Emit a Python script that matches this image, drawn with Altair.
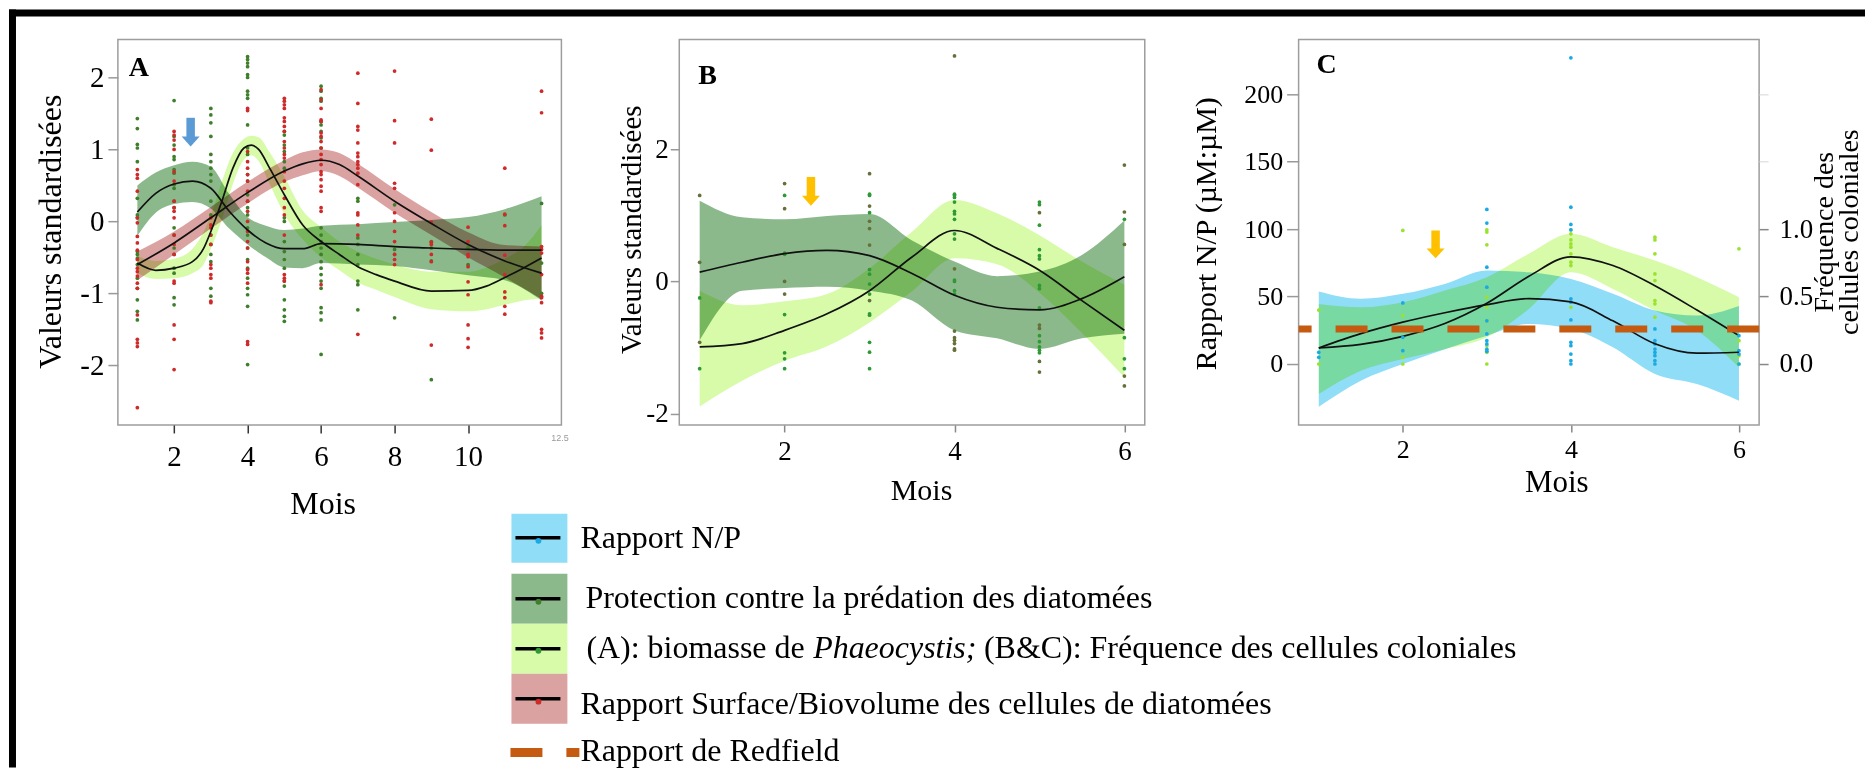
import altair as alt
import pandas as pd

SERIF = "Liberation Serif"

# ---------------- Panel A ----------------
A_PROT_MOIS = [1, 1.5, 2, 2.5, 3, 3.5, 4, 4.5, 5, 5.5, 6, 7, 8, 9, 10, 11, 12]
A_PROT_FIT = [0.13, 0.39, 0.52, 0.56, 0.46, 0.14, -0.12, -0.30, -0.38, -0.38, -0.31, -0.32, -0.35, -0.37, -0.39, -0.40, -0.40]
A_PROT_BAS = [-0.20, 0.12, 0.24, 0.27, 0.18, -0.10, -0.32, -0.50, -0.64, -0.65, -0.58, -0.60, -0.62, -0.68, -0.75, -0.82, -1.10]
A_PROT_HAUT = [0.50, 0.68, 0.78, 0.83, 0.76, 0.38, 0.06, -0.06, -0.12, -0.10, -0.06, -0.04, -0.01, 0.02, 0.06, 0.17, 0.35]

A_PHAE_MOIS = [1, 1.5, 2, 2.5, 2.8, 3, 3.3, 3.6, 3.9, 4.1, 4.3, 4.6, 5, 5.5, 6, 6.5, 7, 7.5, 8, 9, 10, 10.5, 11, 11.5, 12]
A_PHAE_FIT = [-0.58, -0.68, -0.65, -0.56, -0.38, -0.14, 0.28, 0.74, 1.02, 1.06, 1.00, 0.74, 0.37, -0.05, -0.28, -0.46, -0.63, -0.74, -0.83, -0.97, -0.96, -0.90, -0.78, -0.65, -0.51]
A_PHAE_BAS = [-0.72, -0.80, -0.79, -0.72, -0.60, -0.38, 0.02, 0.52, 0.86, 0.92, 0.84, 0.52, 0.10, -0.25, -0.50, -0.68, -0.85, -0.95, -1.05, -1.22, -1.25, -1.22, -1.16, -1.10, -1.07]
A_PHAE_HAUT = [-0.48, -0.55, -0.52, -0.38, -0.15, 0.08, 0.55, 0.95, 1.15, 1.19, 1.17, 0.96, 0.62, 0.15, -0.08, -0.28, -0.42, -0.52, -0.60, -0.70, -0.70, -0.64, -0.52, -0.36, -0.05]

A_SURF_MOIS = [1, 2, 3, 4, 5, 5.5, 6, 6.5, 7, 8, 9, 10, 11, 12]
A_SURF_FIT = [-0.60, -0.30, 0.05, 0.40, 0.70, 0.80, 0.85, 0.79, 0.63, 0.28, -0.03, -0.32, -0.55, -0.72]
A_SURF_BAS = [-0.82, -0.46, -0.10, 0.25, 0.55, 0.64, 0.70, 0.63, 0.47, 0.12, -0.19, -0.50, -0.78, -1.08]
A_SURF_HAUT = [-0.42, -0.14, 0.20, 0.55, 0.85, 0.96, 1.00, 0.95, 0.80, 0.45, 0.13, -0.15, -0.33, -0.35]

A_POINTS_ROUGES = {
    1: [0.72, 0.65, 0.60, 0.42, 0.05, -0.02, -0.21, -0.30, -0.40, -0.53, -0.65, -0.70, -0.76, -0.86, -0.93, -1.30, -1.64, -1.69, -1.74, -2.59],
    2: [1.25, 1.20, 1.13, 1.00, 0.69, 0.56, 0.28, 0.19, 0.14, 0.05, -0.19, -0.32, -0.46, -0.83, -0.86, -1.44, -1.64, -2.06],
    3: [0.05, -0.05, -0.09, -0.19, -0.32, -0.60, -0.65, -0.74, -0.79, -1.11, -1.13],
    4: [1.57, 1.54, 0.97, 0.83, 0.74, 0.65, 0.56, 0.42, 0.28, 0.14, 0.0, -0.14, -0.28, -0.37, -0.56, -0.67, -0.72, -0.86, -1.67, -1.71],
    5: [1.71, 1.67, 1.62, 1.57, 1.44, 1.39, 1.32, 1.25, 1.11, 1.02, 0.93, 0.88, 0.69, 0.56, 0.46, 0.32, 0.19, 0.09, -0.19, -0.74, -0.79, -0.83],
    6: [1.83, 1.69, 1.57, 1.41, 1.39, 1.23, 1.18, 1.11, 1.02, 0.93, 0.86, 0.79, 0.69, 0.65, 0.58, 0.49, 0.42, 0.19, 0.14, -0.88],
    7: [2.06, 1.64, 1.32, 1.27, 1.09, 0.95, 0.90, 0.83, 0.79, 0.74, 0.67, 0.51, 0.12, 0.09, -0.05, -0.19, -1.57],
    8: [2.09, 1.40, 1.09, 0.53, 0.46, 0.12, 0.0, -0.14, -0.28, -0.46, -0.53, -0.60],
    9: [1.42, 0.99, -0.01, -0.29, -0.32, -0.46, -0.56, -1.72],
    10: [-0.08, -0.28, -0.46, -0.49, -0.63, -0.84, -1.02, -1.44, -1.63, -1.75],
    11: [0.74, 0.10, -0.06, -0.47, -0.74, -0.98, -1.06, -1.18, -1.29],
    12: [1.81, 1.51, -0.35, -0.39, -0.44, -0.74, -1.04, -1.06, -1.13, -1.50, -1.55, -1.62],
}
A_POINTS_VERTS = {
    1: [1.43, 1.29, 1.07, 1.02, 0.83, 0.32, 0.09, 0.05, -0.42, -0.46, -0.51, -0.60, -0.79, -0.93, -1.09, -1.25, -1.37],
    2: [1.68, 1.18, 1.06, 0.90, 0.86, 0.72, 0.67, 0.51, 0.46, 0.28, 0.19, -0.09, -0.19, -0.37, -0.46, -0.65, -0.72, -1.06, -1.16],
    3: [1.57, 1.48, 1.37, 1.18, 0.93, 0.83, 0.74, 0.65, 0.56, 0.28, 0.09, -0.19, -0.32, -0.46, -0.56, -0.93, -1.04],
    4: [2.29, 2.25, 2.20, 2.15, 2.04, 2.00, 1.81, 1.76, 1.71, 1.34, 1.02, 0.93, 0.65, 0.56, 0.37, 0.28, 0.19, 0.09, -0.09, -0.19, -0.37, -0.53, -0.65, -0.79, -0.93, -1.02, -1.18, -1.99],
    5: [1.25, 1.20, 1.06, 0.97, 0.83, 0.74, 0.05, 0.0, -0.28, -0.42, -0.53, -0.65, -0.83, -0.90, -1.09, -1.23, -1.32, -1.39],
    6: [1.88, 1.81, 1.71, 1.67, 1.39, 1.34, 1.25, 1.16, 1.02, -0.09, -0.19, -0.28, -0.37, -0.46, -0.56, -0.65, -0.74, -0.83, -0.93, -1.20, -1.27, -1.37, -1.85],
    7: [0.32, 0.28, -0.23, -0.32, -0.46, -0.60, -0.83, -0.88, -1.23],
    8: [0.23, -0.39, -0.46, -1.34],
    9: [-0.28, -0.37, -0.55, -2.20],
    10: [-0.36, -0.60],
    11: [0.09],
    12: [0.25, -0.58, -1.00],
}
A_FLECHE = [2.45, 1.44, 1.11]  # mois, haut de la flèche, centre de la pointe

# ---------------- Panel B ----------------
B_MOIS = [1, 1.5, 2, 2.5, 3, 3.5, 4, 4.5, 5, 5.5, 6]
B_PROT_FIT = [0.14, 0.29, 0.42, 0.47, 0.39, 0.12, -0.21, -0.39, -0.43, -0.26, 0.07]
B_PROT_BAS = [-0.89, -0.14, -0.10, -0.08, -0.14, -0.29, -0.74, -0.86, -1.02, -0.86, -0.79]
B_PROT_HAUT = [1.22, 0.97, 0.94, 0.99, 1.02, 0.62, 0.30, 0.08, 0.15, 0.40, 0.92]
B_COLO_FIT = [-0.99, -0.94, -0.74, -0.49, -0.14, 0.37, 0.77, 0.50, 0.17, -0.29, -0.74]
B_COLO_BAS = [-1.89, -1.50, -1.20, -0.98, -0.62, -0.15, 0.35, 0.26, -0.17, -0.78, -1.45]
B_COLO_HAUT = [-0.14, -0.36, -0.30, -0.19, 0.20, 0.75, 1.23, 1.03, 0.70, 0.30, -0.05]

B_POINTS_OLIVE = {
    1: [1.30, 0.29, -0.92],
    2: [1.48, 1.10, 0.43, 0.0, -0.19],
    3: [1.63, 1.14, 0.91, 0.80, 0.55, -0.29],
    4: [3.41, 0.19, -0.75, -0.85, -0.89, -0.94, -1.02, -1.04],
    5: [1.04, -0.66, -0.71, -1.21, -1.37],
    6: [1.76, 1.05, 0.56, -1.43, -1.58],
}
B_POINTS_VERTS = {
    1: [-0.25, -1.32],
    2: [1.30, 0.41, -0.50, -1.08, -1.17, -1.32],
    3: [1.32, 1.30, 1.04, 0.18, 0.11, -0.04, -0.19, -0.49, -0.51, -0.92, -1.07, -1.32],
    4: [1.32, 1.30, 1.27, 1.20, 1.06, 1.02, 0.94, 0.72, 0.64, 0.02, 0.0, -0.14, -0.19],
    5: [1.20, 1.16, 0.85, 0.48, 0.39, 0.34, -0.06, -0.11, -0.40, -0.82, -0.91, -0.99, -1.04, -1.08],
    6: [0.94, -0.85, -1.17, -1.32],
}
B_FLECHE = [2.31, 1.58, 1.22]

# ---------------- Panel C ----------------
C_MOIS = [1, 1.5, 2, 2.5, 3, 3.5, 4, 4.5, 5, 5.5, 6]
C_NP_FIT = [11.9, 22.5, 31.0, 38.0, 44.0, 48.5, 46.0, 32.0, 15.0, 8.0, 8.7]
C_NP_BAS = [-31.7, -12.4, 0.0, 11.0, 21.0, 29.7, 26.0, 12.4, -7.4, -14.9, -27.2]
C_NP_HAUT = [53.7, 48.3, 52.0, 59.4, 69.3, 68.0, 63.0, 52.0, 39.6, 35.9, 43.0]
C_COLO_FIT = [0.119, 0.145, 0.205, 0.30, 0.45, 0.65, 0.795, 0.73, 0.58, 0.40, 0.21]
C_COLO_BAS = [-0.223, -0.05, 0.037, 0.11, 0.198, 0.408, 0.68, 0.557, 0.396, 0.248, -0.025]
C_COLO_HAUT = [0.445, 0.42, 0.458, 0.545, 0.644, 0.817, 0.965, 0.866, 0.767, 0.644, 0.495]

C_POINTS_NP = {
    1: [8.7, 5.0],
    2: [45.3, 26.0, 19.8, 9.9],
    3: [114.6, 104.5, 71.8, 57.0, 32.0, 22.3, 17.3, 14.9, 11.0, 9.4],
    4: [227.0, 116.3, 103.5, 99.5, 48.3, 45.8, 32.7, 25.2, 16.1, 13.6, 7.4, 2.5, 0.0],
    5: [26.0, 17.3, 14.9, 11.1, 8.7, 6.2, 2.5, 0.0],
    6: [21.0, 9.9, 7.4, 0.0],
}
C_POINTS_COLO = {
    1: [0.40, 0.0],
    2: [0.99, 0.359, 0.26, 0.05, 0.0],
    3: [0.995, 0.978, 0.884, 0.495, 0.42, 0.32, 0.136, 0.087, 0.0],
    4: [0.995, 0.965, 0.92, 0.89, 0.866, 0.817, 0.755, 0.73, 0.42],
    5: [0.94, 0.92, 0.817, 0.668, 0.619, 0.47, 0.446, 0.347],
    6: [0.854, 0.173, 0.062, 0.0],
}
C_REDFIELD = [26]
C_FLECHE = [2.39, 99.0, 82.0]
C_TITRE_DROITE = ["Fréquence des", "cellules coloniales"]

# ---------------- Légende ----------------
LEG_TEXTES = ["Rapport N/P", "Protection contre la prédation des diatomées", None,
              "Rapport Surface/Biovolume des cellules de diatomées", "Rapport de Redfield"]
LEG_PHAEO = ["(A): biomasse de ", "Phaeocystis;", "(B&C): Fréquence des cellules coloniales"]

# ---------------- Styles ----------------
F_VERT_FONCE = "#8CB98C"
F_VERT_CLAIR = "#D7FBA9"
F_ROUGE = "#DBA2A2"
F_BLEU = "#8FDDF6"
P_ROUGE = "#cf2a2a"
P_VERT = "#3f7f2c"
P_OLIVE = "#66713a"
P_VERT2 = "#2f9a35"
P_BLEU = "#1aa9e3"
P_VERT_CLAIR = "#9be22e"
ORANGE = "#C55A11"
JAUNE = "#FFC000"
BLEU_FL = "#5B9BD5"
TRI = "M-1,-0.55L1,-0.55L0,0.55Z"
SANS_CADRE = alt.ViewBackground(stroke="transparent")

# page-pixel layout of the legend and frame (drawn from panel B, whose plot origin is at B_ORIG)
B_ORIG = (679, 38)
C_ORIG = (1299, 38)
LEG_FONDS = [F_BLEU, F_VERT_FONCE, F_VERT_CLAIR, F_ROUGE]
LEG_PTS = [P_BLEU, P_VERT, P_VERT2, P_ROUGE]
LEG_CASE_Y = [(513, 562), (573, 623), (623, 673), (673, 723)]
LEG_TRAIT_Y = [537, 598, 648, 698]
LEG_POINT_Y = [540, 601, 650, 701]
LEG_TEXTE_Y = [547, 607, 657, 713, 760]
LEG_TEXTE_X = [580, 585, 586, 580, 580]
LEG_PHAEO_X = [586, 813, 984]
LEG_REDF_Y = 752
TITRE_D_X = [1826, 1851]
TITRE_D_Y = 231


def courbe(mois, fit, bas, haut):
    return pd.DataFrame({"mois": mois, "val": fit, "bas": bas, "haut": haut})


def nuage(d):
    return pd.DataFrame([(m, v) for m, vs in d.items() for v in vs], columns=["mois", "val"])


def x_enc(domain, values, lab_size, lab_pad, tick_size, tick_color, title_size, title_x, title_y):
    return alt.X("mois:Q", scale=alt.Scale(domain=domain, nice=False, zero=False),
                 axis=alt.Axis(values=values, title="Mois", grid=False, domain=False,
                               tickSize=tick_size, tickColor=tick_color, tickWidth=1.5,
                               labelFont=SERIF, labelFontSize=lab_size, labelPadding=lab_pad,
                               labelColor="black", titleFont=SERIF, titleFontSize=title_size,
                               titleFontWeight="normal", titleColor="black",
                               titleX=title_x, titleY=title_y, titleBaseline="middle",
                               titleAlign="center"))


def y_axis(values, title, lab_size, lab_pad, tick_size, title_size, title_x, title_y):
    return alt.Axis(values=values, labelExpr="toString(datum.value)", title=title, grid=False,
                    domain=False, tickSize=tick_size, tickColor="#999999", tickWidth=1.5,
                    labelFont=SERIF, labelFontSize=lab_size, labelPadding=lab_pad, labelColor="black",
                    titleFont=SERIF, titleFontSize=title_size, titleFontWeight="normal",
                    titleColor="black", titleX=title_x, titleY=title_y, titleAngle=270,
                    titleBaseline="middle", titleAlign="center")


def bande(df, X, Yf, couleur):
    return alt.Chart(df).mark_area(color=couleur, opacity=1, blend="multiply",
                                   interpolate="monotone").encode(x=X, y=Yf("bas"), y2="haut")


def ligne(df, X, Yf):
    return alt.Chart(df).mark_line(color="#111111", strokeWidth=1.7,
                                   interpolate="monotone").encode(x=X, y=Yf("val"))


def points(d, X, Yf, couleur):
    return alt.Chart(nuage(d)).mark_circle(size=14, color=couleur, opacity=1).encode(x=X, y=Yf("val"))


def fleche(f, X, Yf, couleur):
    df = pd.DataFrame({"mois": [f[0]], "haut": [f[1]], "tete": [f[2]]})
    tige = alt.Chart(df).mark_rule(color=couleur, strokeWidth=8.5).encode(x=X, y=Yf("haut"), y2="tete")
    tete = alt.Chart(df).mark_point(shape=TRI, filled=True, size=324, color=couleur,
                                    opacity=1).encode(x=X, y=Yf("tete"))
    return [tige, tete]


UN = pd.DataFrame({"a": [0]})


def lettre(t, dx, dy):
    return alt.Chart(pd.DataFrame({"t": [t]})).mark_text(
        font=SERIF, fontSize=28, fontWeight="bold", align="left", baseline="alphabetic",
        color="black").encode(text="t:N", x=alt.value(dx), y=alt.value(dy))


def rect_page(x1, x2, y1, y2, couleur):
    ox, oy = B_ORIG
    return alt.Chart(UN).mark_rect(color=couleur, opacity=1).encode(
        x=alt.value(x1 - ox), x2=alt.value(x2 - ox), y=alt.value(y1 - oy), y2=alt.value(y2 - oy))


def trait_page(x1, x2, y, couleur, epaisseur, dash=None):
    ox, oy = B_ORIG
    kw = {"strokeDash": dash} if dash else {}
    return alt.Chart(UN).mark_rule(color=couleur, strokeWidth=epaisseur, **kw).encode(
        x=alt.value(x1 - ox), x2=alt.value(x2 - ox), y=alt.value(y - oy))


def texte_page(t, x, y, italique=False):
    ox, oy = B_ORIG
    return alt.Chart(pd.DataFrame({"t": [t]})).mark_text(
        font=SERIF, fontSize=32, align="left", baseline="alphabetic", color="black",
        fontStyle="italic" if italique else "normal").encode(
        text="t:N", x=alt.value(x - ox), y=alt.value(y - oy))


def point_page(x, y, couleur):
    ox, oy = B_ORIG
    return alt.Chart(UN).mark_circle(size=34, color=couleur, opacity=1).encode(
        x=alt.value(x - ox), y=alt.value(y - oy))


# ----- Panel A -----
XA = x_enc([0.47, 12.54], [2, 4, 6, 8, 10], 29, 10, 8, "#333333", 32, 205, 79)
A_YAX = y_axis([-2, -1, 0, 1, 2], "Valeurs standardisées", 29, 4, 10, 32, -67, 192)


def YA(f):
    return alt.Y(f"{f}:Q", scale=alt.Scale(domain=[-2.83, 2.53], nice=False, zero=False), axis=A_YAX)


a_prot = courbe(A_PROT_MOIS, A_PROT_FIT, A_PROT_BAS, A_PROT_HAUT)
a_phae = courbe(A_PHAE_MOIS, A_PHAE_FIT, A_PHAE_BAS, A_PHAE_HAUT)
a_surf = courbe(A_SURF_MOIS, A_SURF_FIT, A_SURF_BAS, A_SURF_HAUT)
a_125 = alt.Chart(pd.DataFrame({"mois": [12.5], "lab": ["12.5"]})).mark_text(
    font="Liberation Sans", fontSize=9, color="#999999", baseline="top").encode(
    x=XA, y=alt.value(395), text="lab:N")

panel_a = alt.layer(
    bande(a_prot, XA, YA, F_VERT_FONCE),
    bande(a_phae, XA, YA, F_VERT_CLAIR),
    bande(a_surf, XA, YA, F_ROUGE),
    points(A_POINTS_VERTS, XA, YA, P_VERT),
    points(A_POINTS_ROUGES, XA, YA, P_ROUGE),
    ligne(a_prot, XA, YA),
    ligne(a_phae, XA, YA),
    ligne(a_surf, XA, YA),
    *fleche(A_FLECHE, XA, YA, BLEU_FL),
    lettre("A", 11, 37),
    a_125,
).properties(width=444, height=386)

# ----- Panel B (also carries the frame and the legend) -----
XB = x_enc([0.76, 6.24], [2, 4, 6], 27, 7, 7, "#888888", 30, 242, 66)
B_YAX = y_axis([-2, 0, 2], "Valeurs standardisées", 27, 2, 9, 29, -48, 190)


def YB(f):
    return alt.Y(f"{f}:Q", scale=alt.Scale(domain=[-2.17, 3.66], nice=False, zero=False), axis=B_YAX)


b_prot = courbe(B_MOIS, B_PROT_FIT, B_PROT_BAS, B_PROT_HAUT)
b_colo = courbe(B_MOIS, B_COLO_FIT, B_COLO_BAS, B_COLO_HAUT)

cadre = [rect_page(8, 1866, 8, 15, "black"), rect_page(8, 15, 8, 767, "black")]

legende = []
for i in range(4):
    y1, y2 = LEG_CASE_Y[i]
    legende.append(rect_page(511, 567, y1, y2, LEG_FONDS[i]))
    legende.append(trait_page(515, 560, LEG_TRAIT_Y[i], "black", 3.5))
    legende.append(point_page(538, LEG_POINT_Y[i], LEG_PTS[i]))
for i, t in enumerate(LEG_TEXTES):
    if t is not None:
        legende.append(texte_page(t, LEG_TEXTE_X[i], LEG_TEXTE_Y[i]))
for j, (morceau, xp) in enumerate(zip(LEG_PHAEO, LEG_PHAEO_X)):
    legende.append(texte_page(morceau, xp, LEG_TEXTE_Y[2], italique=(j == 1)))
legende.append(trait_page(510, 579, LEG_REDF_Y, ORANGE, 9, [32, 24]))

panel_b = alt.layer(
    bande(b_prot, XB, YB, F_VERT_FONCE),
    bande(b_colo, XB, YB, F_VERT_CLAIR),
    points(B_POINTS_OLIVE, XB, YB, P_OLIVE),
    points(B_POINTS_VERTS, XB, YB, P_VERT2),
    ligne(b_prot, XB, YB),
    ligne(b_colo, XB, YB),
    *fleche(B_FLECHE, XB, YB, JAUNE),
    lettre("B", 19, 45),
    *cadre,
    *legende,
).properties(width=466, height=386)

# ----- Panel C -----
XC = x_enc([0.76, 6.24], [2, 4, 6], 26, 5, 7, "#888888", 31, 258, 58)
C_YAX = y_axis([0, 50, 100, 150, 200], "Rapport N/P (µM:µM)", 26, 4, 12, 30, -92, 194)
C_DOM = [-45.2, 240.7]


def YC(f):
    return alt.Y(f"{f}:Q", scale=alt.Scale(domain=C_DOM, nice=False, zero=False), axis=C_YAX)


def YC_cache(f):
    return alt.Y(f"{f}:Q", scale=alt.Scale(domain=C_DOM, nice=False, zero=False), axis=None)


C_YAX_D = alt.Axis(orient="right", values=[0, 0.5, 1.0, 1.5, 2.0],
                   labelExpr="datum.value <= 1 ? format(datum.value, '.1f') : ''",
                   title=None, grid=False, domain=False,
                   tickSize=9, tickWidth=1.5,
                   tickColor={"condition": {"test": "datum.value > 1", "value": "#e4e4e4"},
                              "value": "#888888"},
                   labelFont=SERIF, labelFontSize=27, labelPadding=11, labelColor="black")


def YD(f):
    return alt.Y(f"{f}:Q", scale=alt.Scale(domain=[C_DOM[0] / 100, C_DOM[1] / 100], nice=False,
                                           zero=False), axis=C_YAX_D)


def titre_droite(t, x):
    ox, oy = C_ORIG
    return alt.Chart(pd.DataFrame({"t": [t]})).mark_text(
        font=SERIF, fontSize=28, angle=270, align="center", baseline="middle",
        color="black").encode(text="t:N", x=alt.value(x - ox), y=alt.value(TITRE_D_Y - oy))


c_np = courbe(C_MOIS, C_NP_FIT, C_NP_BAS, C_NP_HAUT)
c_colo = courbe(C_MOIS, C_COLO_FIT, C_COLO_BAS, C_COLO_HAUT)
redfield = alt.Chart(pd.DataFrame({"val": C_REDFIELD})).mark_rule(
    color=ORANGE, strokeWidth=7, strokeDash=[32, 24]).encode(y=YC_cache("val"))

c_gauche = alt.layer(bande(c_np, XC, YC, F_BLEU))
c_droite = alt.layer(
    bande(c_colo, XC, YD, F_VERT_CLAIR),
    points(C_POINTS_COLO, XC, YD, P_VERT_CLAIR),
    ligne(c_colo, XC, YD),
)
c_dessus = alt.layer(
    points(C_POINTS_NP, XC, YC_cache, P_BLEU),
    ligne(c_np, XC, YC_cache),
    redfield,
    *fleche(C_FLECHE, XC, YC_cache, JAUNE),
    lettre("C", 18, 34),
    *[titre_droite(t, x) for t, x in zip(C_TITRE_DROITE, TITRE_D_X)],
)
panel_c = alt.layer(c_gauche, c_droite, c_dessus).resolve_scale(y="independent").properties(
    width=461, height=386)


def espace(w):
    return alt.Chart(UN).mark_point(opacity=0).encode(
        x=alt.value(0), y=alt.value(0)).properties(width=w, height=386, view=SANS_CADRE)


chart = alt.hconcat(
    panel_a, espace(118), panel_b, espace(154), panel_c, spacing=0, bounds="flush"
).properties(padding=0, background="white").configure_view(stroke="#9d9d9d", strokeWidth=1.5)

chart.save("out.html", embed_options={"renderer": "svg", "actions": False})
